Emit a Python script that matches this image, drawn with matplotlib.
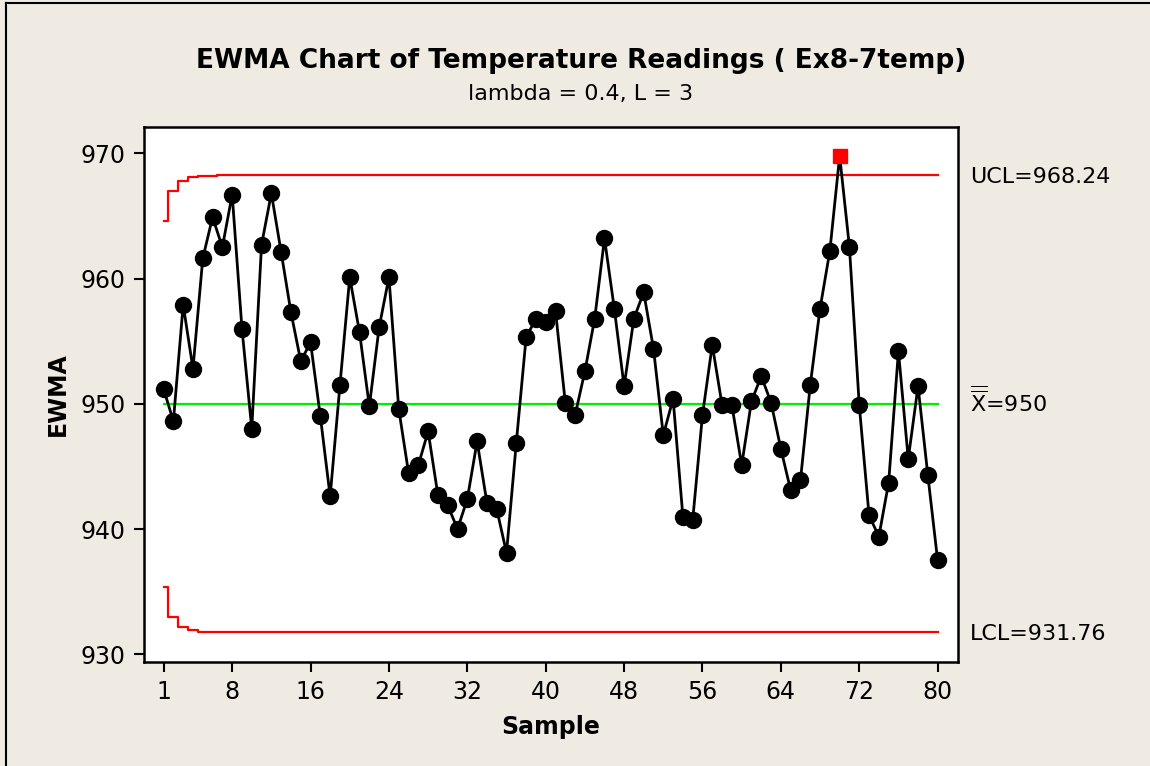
import matplotlib
matplotlib.use("Agg")
import matplotlib.pyplot as plt
from matplotlib.lines import Line2D
from matplotlib.transforms import offset_copy

# EWMA values, samples 1..80
samples = list(range(1, 81))
ewma = [951.2, 948.6, 957.9, 952.8, 961.6, 964.9, 962.5, 966.7, 956.0, 948.0,
        962.7, 966.8, 962.1, 957.3, 953.4, 954.9, 949.0, 942.6, 951.5, 960.1,
        955.7, 949.8, 956.1, 960.1, 949.6, 944.5, 945.1, 947.8, 942.7, 941.9,
        940.0, 942.4, 947.0, 942.1, 941.6, 938.1, 946.9, 955.3, 956.8, 956.5,
        957.4, 950.1, 949.1, 952.6, 956.8, 963.2, 957.6, 951.4, 956.8, 958.9,
        954.4, 947.5, 950.4, 941.0, 940.7, 949.1, 954.7, 949.9, 949.9, 945.1,
        950.2, 952.2, 950.1, 946.4, 943.1, 943.9, 951.5, 957.6, 962.2, 969.8,
        962.5, 949.9, 941.1, 939.4, 943.7, 954.2, 945.6, 951.4, 944.3, 937.5]

center = 950.0
ucl_final = 968.24
lcl_final = 931.76
# first few limits are narrower (start-up of the EWMA)
ucl_start = [964.59, 967.02, 967.81, 968.09, 968.19, 968.22, 968.23]
lcl_start = [935.41, 932.98, 932.19, 931.91, 931.81, 931.78, 931.77]
ucl = ucl_start + [ucl_final] * (len(samples) - len(ucl_start))
lcl = lcl_start + [lcl_final] * (len(samples) - len(lcl_start))

out_pts = [70]  # beyond UCL
xticks = [1, 8, 16, 24, 32, 40, 48, 56, 64, 72, 80]
yticks = [930, 940, 950, 960, 970]

bg = "#EFEBE2"
plt.rcParams["font.family"] = ["DejaVu Sans"]
plt.rcParams["mathtext.fontset"] = "dejavusans"

fig = plt.figure(figsize=(11.5, 7.66), dpi=100, facecolor=bg)
ax = fig.add_axes([0.1252, 0.1358, 0.7076, 0.6988])
ax.set_facecolor("white")

ax.plot(samples, ucl, color="red", lw=1.6, drawstyle="steps-mid")
ax.plot(samples, lcl, color="red", lw=1.6, drawstyle="steps-mid")
ax.plot([samples[0], samples[-1]], [center, center], color="#00EE00", lw=1.6)

ok_idx = [i for i, s in enumerate(samples) if s not in out_pts]
ax.plot(samples, ewma, color="black", lw=2.0, marker="o", ms=11.5,
        markevery=ok_idx, markerfacecolor="black", markeredgecolor="black", zorder=3)
for s in out_pts:
    ax.plot(s, ewma[s - 1], marker="s", ms=10, color="red", mec="red", zorder=4)

ax.set_xlim(-1, 82.05)
ax.set_ylim(929.39, 972.12)
ax.set_xticks(xticks)
ax.set_yticks(yticks)
ax.tick_params(labelsize=17, length=7, width=1.5, direction="out", pad=6)
for sp in ax.spines.values():
    sp.set_linewidth(1.8)

ax.set_xlabel("Sample", fontsize=17, fontweight="bold", labelpad=8)
ax.set_ylabel("EWMA", fontsize=17, fontweight="bold", labelpad=8)

# limit labels on the right (baseline sits ~8 px under the line)
lab_tr = offset_copy(ax.transData, fig=fig, x=0, y=-8, units="dots")
ax.text(83.3, ucl_final, "UCL=968.24", fontsize=16, va="baseline", ha="left",
        transform=lab_tr)
ax.text(83.3, center, r"$\overline{\overline{\mathrm{X}}}$=950", fontsize=16,
        va="baseline", ha="left", transform=lab_tr)
ax.text(83.3, lcl_final, "LCL=931.76", fontsize=16, va="baseline", ha="left",
        transform=lab_tr)

fig.text(0.505, 0.920, "EWMA Chart of Temperature Readings ( Ex8-7temp)",
         fontsize=19, fontweight="bold", ha="center", va="center")
fig.text(0.505, 0.877, "lambda = 0.4, L = 3", fontsize=16, ha="center", va="center")

# outer frame (top and left edges of the screenshot)
fig.add_artist(Line2D([0.005, 0.005], [0, 0.996], transform=fig.transFigure, color="black", lw=1.5))
fig.add_artist(Line2D([0.005, 1], [0.996, 0.996], transform=fig.transFigure, color="black", lw=1.5))

fig.savefig("out.png", dpi=100, facecolor=bg)
